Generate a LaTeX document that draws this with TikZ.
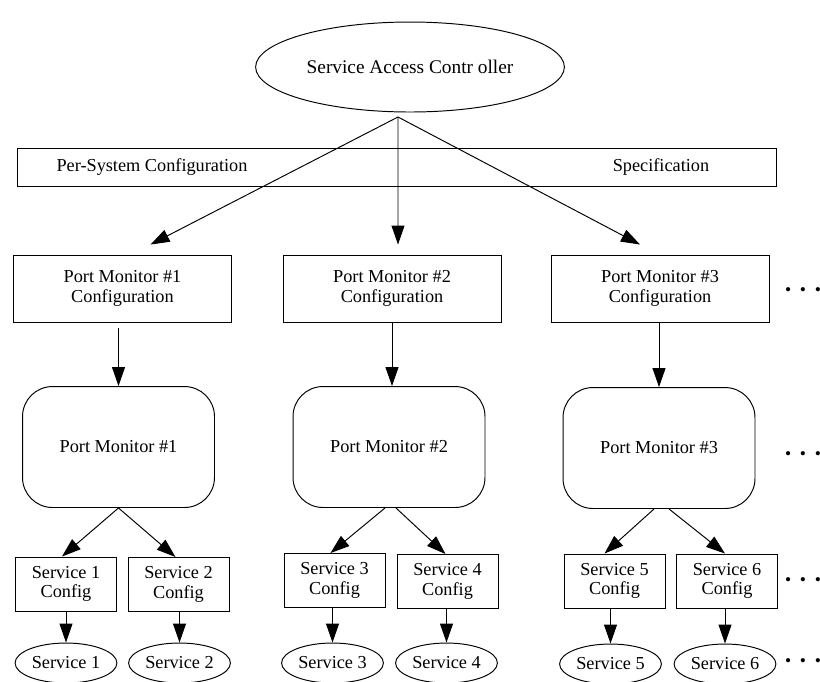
\documentclass[tikz,border=0pt]{standalone}
\usepackage{fontspec}
\setmainfont{Liberation Serif}
\usetikzlibrary{arrows.meta, shapes.geometric}

\begin{document}
\begin{tikzpicture}[
    x=0.02cm, y=-0.02cm,
    line width=0.55pt,
    every node/.style={font=\fontsize{10.4}{11}\selectfont},
    cfgbox/.style={rectangle, draw, minimum width=4.36cm, minimum height=1.34cm, align=center},
    monitor/.style={rectangle, draw, rounded corners=0.6cm, minimum width=3.84cm, minimum height=2.42cm},
    svcbox/.style={rectangle, draw, minimum width=2.02cm, minimum height=1.08cm, align=center},
    svc/.style={ellipse, draw, minimum width=1.98cm, minimum height=0.8cm, inner sep=1pt},
    flow/.style={-{Triangle[length=0.38cm, width=0.26cm]}},
    moredots/.style={font=\fontsize{10}{10}\selectfont, inner sep=0pt}
]
\useasboundingbox (0,0) rectangle (820,681);

% === CONTROLLER AND SYSTEM CONFIGURATION ===
\node[ellipse, draw, minimum width=5.6cm, minimum height=1.8cm, font=\fontsize{11}{13}\selectfont] (sac) at (410,67) {Service Access Contr oller};
\coordinate (apex) at (398,117);

\node[rectangle, draw, minimum width=15.2cm, minimum height=0.76cm] (bar) at (397,167) {};
\node (barleft) at (152,167) {Per-System Configuration};
\node (barright) at (661,167) {Specification};

% === PORT MONITOR CONFIGURATIONS ===
\node[cfgbox] (pmc1) at (122.5,288.5) {Port Monitor \#1\\Configuration};
\node[cfgbox] (pmc2) at (392,288.5) {Port Monitor \#2\\Configuration};
\node[cfgbox] (pmc3) at (660,288.5) {Port Monitor \#3\\Configuration};

\draw[flow] (apex) -- ([xshift=0.56cm, yshift=0.2cm]pmc1.north);
\draw[flow] (apex) -- ([xshift=0.12cm, yshift=0.2cm]pmc2.north);
\draw[flow] (apex) -- ([xshift=-0.4cm, yshift=0.2cm]pmc3.north);

% === PORT MONITORS ===
\node[monitor] (pm1) at (118.5,447) {Port Monitor \#1};
\node[monitor] (pm2) at (389,447) {Port Monitor \#2};
\node[monitor] (pm3) at (659,448) {Port Monitor \#3};

\draw[flow, shorten <=0.12cm] (pm1.north |- pmc1.south) -- (pm1.north);
\draw[flow] (pmc2.south) -- (pmc2.south |- pm2.north);
\draw[flow] (pm3.north |- pmc3.south) -- (pm3.north);

% === SERVICE CONFIGURATIONS ===
\node[svcbox] (sc1) at (66,584) {Service 1\\Config};
\node[svcbox] (sc2) at (178.5,584.5) {Service 2\\Config};
\node[svcbox] (sc3) at (334.5,580.5) {Service 3\\Config};
\node[svcbox] (sc4) at (447.5,581.5) {Service 4\\Config};
\node[svcbox] (sc5) at (614.5,581) {Service 5\\Config};
\node[svcbox] (sc6) at (727,581) {Service 6\\Config};

\draw[flow] (pm1.south) -- ([xshift=-0.08cm]sc1.north);
\draw[flow] (pm1.south) -- ([xshift=-0.06cm]sc2.north);
\draw[flow] ([xshift=-0.08cm]pm2.south) -- ([xshift=-0.08cm]sc3.north);
\draw[flow] ([xshift=0.14cm]pm2.south) -- ([xshift=-0.04cm]sc4.north);
\draw[flow] ([xshift=-0.1cm]pm3.south) -- ([xshift=-0.2cm]sc5.north);
\draw[flow] ([xshift=0.2cm]pm3.south) -- ([xshift=-0.04cm]sc6.north);

% === SERVICES ===
\node[svc] (sv1) at (66,663) {Service 1};
\node[svc] (sv2) at (179.5,663) {Service 2};
\node[svc] (sv3) at (332.5,663) {Service 3};
\node[svc] (sv4) at (446.5,663) {Service 4};
\node[svc] (sv5) at (610.5,664) {Service 5};
\node[svc] (sv6) at (725,664) {Service 6};

\foreach \i in {1,...,6} {
    \draw[flow] (sv\i.north |- sc\i.south) -- (sv\i.north);
}

% more monitors and services
\foreach \y [count=\i] in {292,456,582,663} {
    \node[moredots] (more\i) at (803,\y) {\textbullet\hspace{5pt}\textbullet\hspace{5pt}\textbullet};
}

\end{tikzpicture}
\end{document}
